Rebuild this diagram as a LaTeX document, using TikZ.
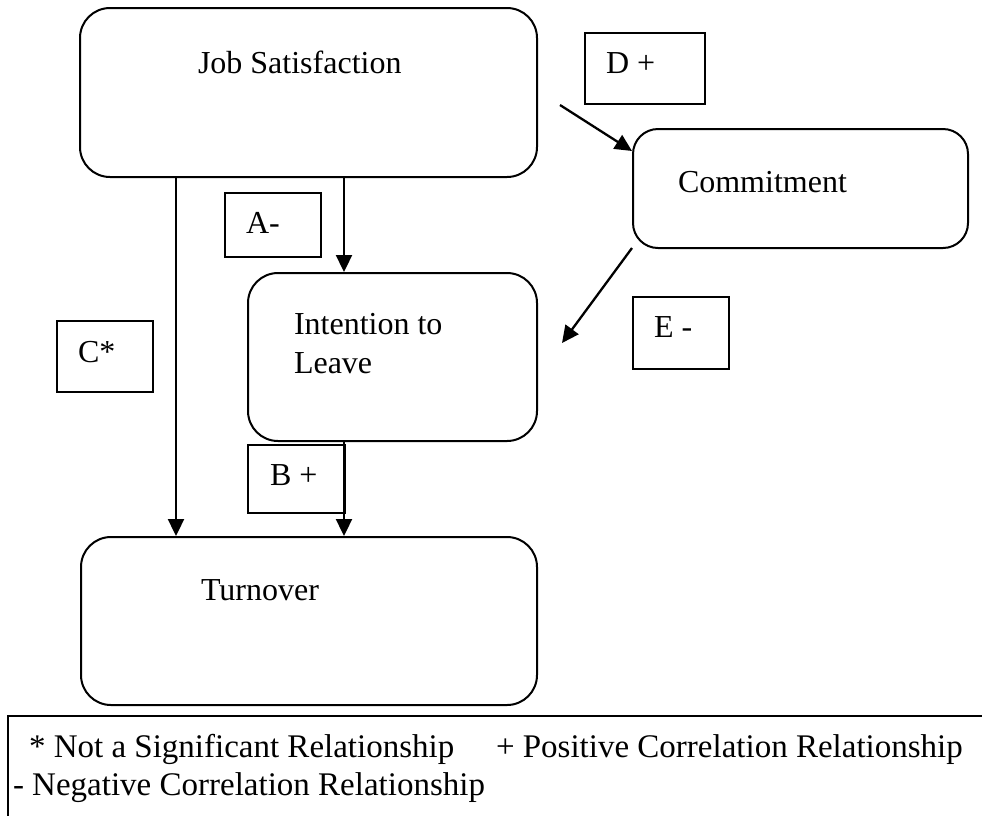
\documentclass[tikz,border=0pt]{standalone}
\usepackage{fontspec}
\setmainfont{Liberation Serif}
\usetikzlibrary{arrows.meta,positioning,calc}

\begin{document}
\begin{tikzpicture}[
    x=1pt, y=-1pt,
    font=\fontsize{32}{39}\selectfont,
    line width=2pt,
    rbox/.style={rectangle, draw, rounded corners=30pt, inner sep=0pt},
    lbox/.style={rectangle, draw, inner sep=0pt},
    txt/.style={anchor=base west, inner sep=0pt},
    legtxt/.style={txt, font=\fontsize{33}{39}\selectfont},
    arrow/.style={-{Triangle[length=17pt, width=16pt]}, line width=2.3pt}
]
    \useasboundingbox (0,0) rectangle (982,815);
    \clip (0,0) rectangle (982,815);

    % --- Construct boxes ---
    \node[rbox, minimum width=457pt, minimum height=169pt] (job) at (308.5,92.5) {};
    \node[rbox, rounded corners=25pt, minimum width=335pt, minimum height=119pt] (com) at (800.5,188.5) {};
    \node[rbox, minimum width=289pt, minimum height=168pt] (int) at (392.5,357) {};
    \node[rbox, minimum width=456pt, minimum height=168pt] (trn) at (309,621) {};

    \node[txt] (jobtxt) at (197,73) {Job Satisfaction};
    \node[txt] (comtxt) at (677,192) {Commitment};
    \node[txt] (inttxt) at (293,334) {Intention to};
    \node[txt] (inttxtb) at (293,373) {Leave};
    \node[txt] (trntxt) at (200,600) {Turnover};

    % --- Path labels ---
    \node[lbox, minimum width=120pt, minimum height=71pt] (dlab) at (645,68.5) {};
    \node[lbox, minimum width=96pt, minimum height=64pt] (alab) at (273,225) {};
    \node[lbox, minimum width=96pt, minimum height=71pt] (clab) at (105,356.5) {};
    \node[lbox, minimum width=96pt, minimum height=72pt] (elab) at (681,333) {};
    \node[lbox, minimum width=97pt, minimum height=68pt] (blab) at (296.5,479) {};

    \node[txt] (dtxt) at (605,73) {D +};
    \node[txt] (atxt) at (245,233) {A-};
    \node[txt] (ctxt) at (77,362) {C*};
    \node[txt] (etxt) at (653,337) {E -};
    \node[txt] (btxt) at (269,485) {B +};

    % --- Paths ---
    \draw[arrow] ([xshift=97pt]job.south west) -- ([xshift=96pt]trn.north west);
    \draw[arrow] ([xshift=265pt]job.south west) -- ([xshift=97pt]int.north west);
    \draw[arrow] ([xshift=97pt]int.south west) -- ([xshift=264pt]trn.north west);

    \coordinate (dstart) at (560,105);
    \draw[arrow] (dstart) -- ([yshift=-23pt]com.north west);
    \coordinate (eend) at (562,343);
    \draw[arrow] ([yshift=1pt]com.south west) -- (eend);

    % --- Legend ---
    \draw (8,716) rectangle (1000,840);
    \node[legtxt] (leg1) at (28,757) {* Not a Significant Relationship};
    \node[legtxt] (leg2) at (495,757) {+ Positive Correlation Relationship};
    \node[legtxt] (leg3) at (12,795) {- Negative Correlation Relationship};
\end{tikzpicture}
\end{document}
